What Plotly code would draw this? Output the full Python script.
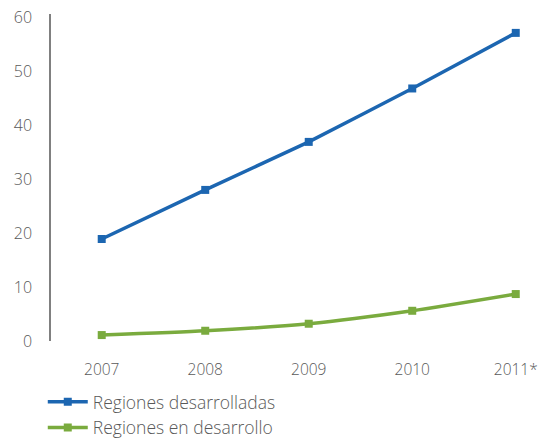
import plotly.graph_objects as go

years = ["2007", "2008", "2009", "2010", "2011*"]
desarrolladas = [18.9, 28.0, 36.9, 46.8, 57.1]
en_desarrollo = [1.1, 1.9, 3.2, 5.6, 8.7]
y_ticks = [0, 10, 20, 30, 40, 50, 60]

blue = "#1C66B1"
green = "#7AAB3E"
txt = "#595959"
fam = "Open Sans"

fig = go.Figure()
fig.add_trace(go.Scatter(x=years, y=desarrolladas, name="Regiones desarrolladas", legendgroup="a",
                         mode="lines+markers", line=dict(color=blue, width=3.5, shape="spline", smoothing=0.3),
                         marker=dict(symbol="square", size=8, color=blue), cliponaxis=False))
fig.add_trace(go.Scatter(x=years, y=en_desarrollo, name="Regiones en desarrollo", legendgroup="b",
                         mode="lines+markers", line=dict(color=green, width=3.5, shape="spline", smoothing=0.6),
                         marker=dict(symbol="square", size=8, color=green), cliponaxis=False))

fig.update_layout(
    width=538, height=442,
    margin=dict(l=51, r=3, t=14, b=101, autoexpand=False),
    paper_bgcolor="white", plot_bgcolor="white",
    font=dict(family=fam, size=16, color=txt, weight=300),
    showlegend=True,
    legend=dict(x=-0.017, y=-0.131, xanchor="left", yanchor="top", orientation="v",
                font=dict(family=fam, size=17.5, color=txt, weight=300), tracegroupgap=0, itemwidth=40,
                bgcolor="rgba(0,0,0,0)"),
    xaxis=dict(type="category", range=[-0.49, 4.186], showgrid=False, zeroline=False,
               showline=False, ticks="outside", ticklen=14, tickcolor="rgba(0,0,0,0)",
               ticklabeloverflow="allow",
               tickfont=dict(family=fam, size=15.5, color=txt, weight=300)),
    yaxis=dict(range=[0, 60.6], tickvals=y_ticks, showgrid=False, zeroline=False,
               showline=True, linecolor="#808080", linewidth=1.5,
               ticks="outside", ticklen=14, tickcolor="rgba(0,0,0,0)",
               ticklabeloverflow="allow",
               tickfont=dict(family=fam, size=16, color=txt, weight=300)),
)

# remove the browser's default 8px body margin so the figure fills the window exactly
fig.write_html("out.html", config={"displayModeBar": False},
               post_script="document.body.style.margin='0';")
